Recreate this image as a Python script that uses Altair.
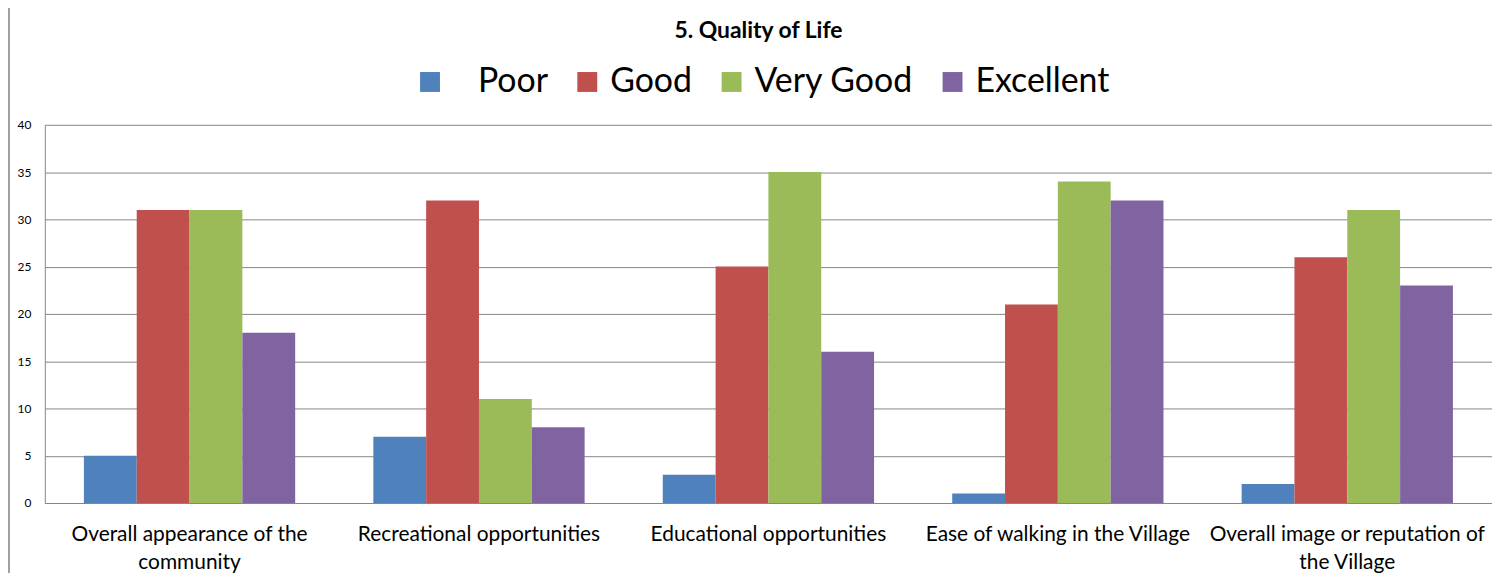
import altair as alt
import pandas as pd

categories = [
    "Overall appearance of the community",
    "Recreational opportunities",
    "Educational opportunities",
    "Ease of walking in the Village",
    "Overall image or reputation of the Village",
]
series = ["Poor", "Good", "Very Good", "Excellent"]
poor = [5, 7, 3, 1, 2]
good = [31, 32, 25, 21, 26]
very_good = [31, 11, 35, 34, 31]
excellent = [18, 8, 16, 32, 23]
colors = ["#4F81BD", "#C0504D", "#9BBB59", "#8064A2"]

rows = []
for vals, s in zip([poor, good, very_good, excellent], series):
    for c, v in zip(categories, vals):
        rows.append({"category": c, "series": s, "value": v})
df = pd.DataFrame(rows)

label_expr = (
    "datum.label == 'Overall appearance of the community' ? ['Overall appearance of the', 'community'] : "
    "datum.label == 'Overall image or reputation of the Village' ? ['Overall image or reputation of', 'the Village'] : datum.label"
)

bars = alt.Chart(df).mark_bar().encode(
    x=alt.X(
        "category:N",
        sort=categories,
        scale=alt.Scale(paddingInner=0.27, paddingOuter=0.135),
        axis=alt.Axis(
            title=None,
            labelAngle=0,
            labelFont="Lato",
            labelFontSize=21,
            labelColor="#000000",
            labelPadding=21,
            labelLineHeight=28,
            labelLimit=400,
            labelExpr=label_expr,
            ticks=False,
            domainColor="#868686",
        ),
    ),
    xOffset=alt.XOffset("series:N", sort=series, scale=alt.Scale(paddingInner=0, paddingOuter=0)),
    y=alt.Y(
        "value:Q",
        scale=alt.Scale(domain=[0, 40]),
        axis=alt.Axis(
            title=None,
            values=list(range(0, 41, 5)),
            labelFont="Lato",
            labelFontSize=12,
            labelColor="#000000",
            labelPadding=14,
            ticks=False,
            domainColor="#868686",
            gridColor="#868686",
            gridWidth=1,
        ),
    ),
    color=alt.Color(
        "series:N",
        sort=series,
        scale=alt.Scale(domain=series, range=colors),
        legend=alt.Legend(
            title=None,
            orient="none",
            direction="horizontal",
            legendX=370,
            legendY=-60,
            symbolType="square",
            symbolSize=400,
            symbolStrokeWidth=0,
            labelFont="Lato",
            labelFontSize=34,
            labelColor="#000000",
            labelOffset=6,
            labelLimit=400,
            columnPadding=22,
            labelExpr="datum.label == 'Poor' ? '\u2800Poor' : datum.label",
        ),
    ),
)

border = alt.Chart(df).mark_rule(color="#A0A0A0", strokeWidth=1).encode(
    x=alt.value(-36), y=alt.value(-120), y2=alt.value(700)
)

chart = (
    alt.layer(border, bars)
    .properties(
        width=1454,
        height=380,
        autosize=alt.AutoSizeParams(type="none"),
        padding={"left": 37, "top": 116, "right": 0, "bottom": 69},
        title=alt.TitleParams(
            "5. Quality of Life",
            font="Lato",
            fontSize=23,
            fontWeight="bold",
            color="#000000",
            anchor="middle",
            dx=-10,
            dy=38,
            offset=0,
        ),
    )
    .configure_view(stroke=None)
    .configure_axis(grid=False)
    .configure_axisY(grid=True)
)

chart.save("out.html", embed_options={"renderer": "svg", "actions": False})
